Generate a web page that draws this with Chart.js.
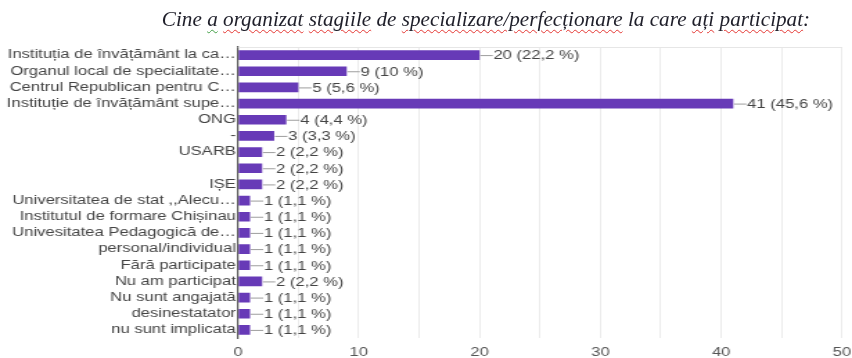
<!DOCTYPE html>
<html>
<head>
<meta charset="utf-8">
<script src="https://cdn.jsdelivr.net/npm/chart.js@4"></script>
<style>
  html, body { margin: 0; padding: 0; background: #fff; }
  #wrap { position: relative; width: 852px; height: 358px; overflow: hidden; }
  #titlu {
    position: absolute; left: 0; top: 7px; width: 972px; text-align: center;
    font-family: "Liberation Serif", "DejaVu Serif", serif; font-style: italic;
    font-size: 21.2px; color: #1f1f2a; white-space: nowrap;
  }
  .sp { text-decoration: underline wavy #e53935; text-decoration-thickness: 1px; text-underline-offset: 3px; }
  .gr { text-decoration: underline wavy #43a047; text-decoration-thickness: 1px; text-underline-offset: 3px; }
  /* graficul e desenat mai ingust si intins pe orizontala */
  canvas { position: absolute; left: 0; top: 0; width: 852px; height: 358px; }
</style>
</head>
<body>
<div id="wrap">
  <canvas id="chart" width="615" height="358" style="width:852px;height:358px"></canvas>
  <div id="titlu">Cine <span class="gr">a</span> <span class="sp">organizat</span> <span class="sp">stagiile</span> de <span class="sp">specializare/perfecționare</span> la care <span class="sp">ați</span> <span class="sp">participat</span>:</div>
</div>
<script>
var categorii = [
  "Instituția de învățământ la ca…",
  "Organul local de specialitate…",
  "Centrul Republican pentru C…",
  "Instituție de învățământ supe…",
  "ONG",
  "-",
  "USARB",
  "",
  "IȘE",
  "Universitatea de stat ,,Alecu…",
  "Institutul de formare Chișinau",
  "Univesitatea Pedagogică de…",
  "personal/individual",
  "Fără participate",
  "Nu am participat",
  "Nu sunt angajată",
  "desinestatator",
  "nu sunt implicata"
];
var raspunsuri = [20, 9, 5, 41, 4, 3, 2, 2, 2, 1, 1, 1, 1, 1, 2, 1, 1, 1];
var respondenti = 90;
var ticksX = [0, 10, 20, 30, 40, 50];

var F = 852 / 615; // intinderea pe orizontala
var font = '"Liberation Sans", Arial, sans-serif';

function procent(v) {
  var p = Math.round(v / respondenti * 1000) / 10;
  return String(p).replace('.', ',') + ' %';
}

// eticheta cu liniuta de legatura la capatul barei
var etichete = {
  id: 'etichete',
  afterDatasetsDraw: function(chart) {
    var ctx = chart.ctx;
    var meta = chart.getDatasetMeta(0);
    ctx.save();
    ctx.font = '12px ' + font;
    ctx.textBaseline = 'middle';
    meta.data.forEach(function(bar, i) {
      var x = bar.x, y = bar.y;
      ctx.strokeStyle = '#9e9e9e';
      ctx.lineWidth = 1;
      ctx.beginPath();
      ctx.moveTo(x + 0.5, y + 0.5);
      ctx.lineTo(x + 9.5, y + 0.5);
      ctx.stroke();
      ctx.fillStyle = '#444';
      ctx.fillText(raspunsuri[i] + ' (' + procent(raspunsuri[i]) + ')', x + 10, y + 1);
    });
    // linia de sus a zonei graficului
    var a = chart.chartArea;
    ctx.strokeStyle = '#e6e6e6';
    ctx.beginPath();
    ctx.moveTo(a.left, a.top + 0.5);
    ctx.lineTo(a.right, a.top + 0.5);
    ctx.stroke();
    ctx.restore();
  }
};

new Chart(document.getElementById('chart').getContext('2d'), {
  type: 'bar',
  data: {
    labels: categorii,
    datasets: [{
      data: raspunsuri,
      backgroundColor: '#673ab7',
      borderWidth: 0,
      barPercentage: 0.6,
      categoryPercentage: 1
    }]
  },
  options: {
    indexAxis: 'y',
    responsive: false,
    devicePixelRatio: 1,
    animation: false,
    layout: { padding: { top: 47, right: 10 / F, left: 0, bottom: 0 } },
    plugins: { legend: { display: false }, tooltip: { enabled: false } },
    scales: {
      x: {
        min: 0, max: 50,
        afterFit: function(s) { s.paddingRight = 0; s.height = 20; },
        ticks: {
          stepSize: 5,
          color: '#555',
          padding: 7,
          maxRotation: 0,
          font: { family: font, size: 12 },
          callback: function(v) { return ticksX.indexOf(v) >= 0 ? v : ''; }
        },
        grid: { color: '#ebebeb', drawTicks: false },
        border: { display: false }
      },
      y: {
        afterFit: function(s) { s.width = 238 / F; },
        ticks: {
          color: '#444',
          padding: 1.5,
          autoSkip: false,
          font: { family: font, size: 12 }
        },
        grid: { display: false, drawTicks: false },
        border: { display: true, color: '#555', width: 1.2 }
      }
    }
  },
  plugins: [etichete]
});
</script>
</body>
</html>
